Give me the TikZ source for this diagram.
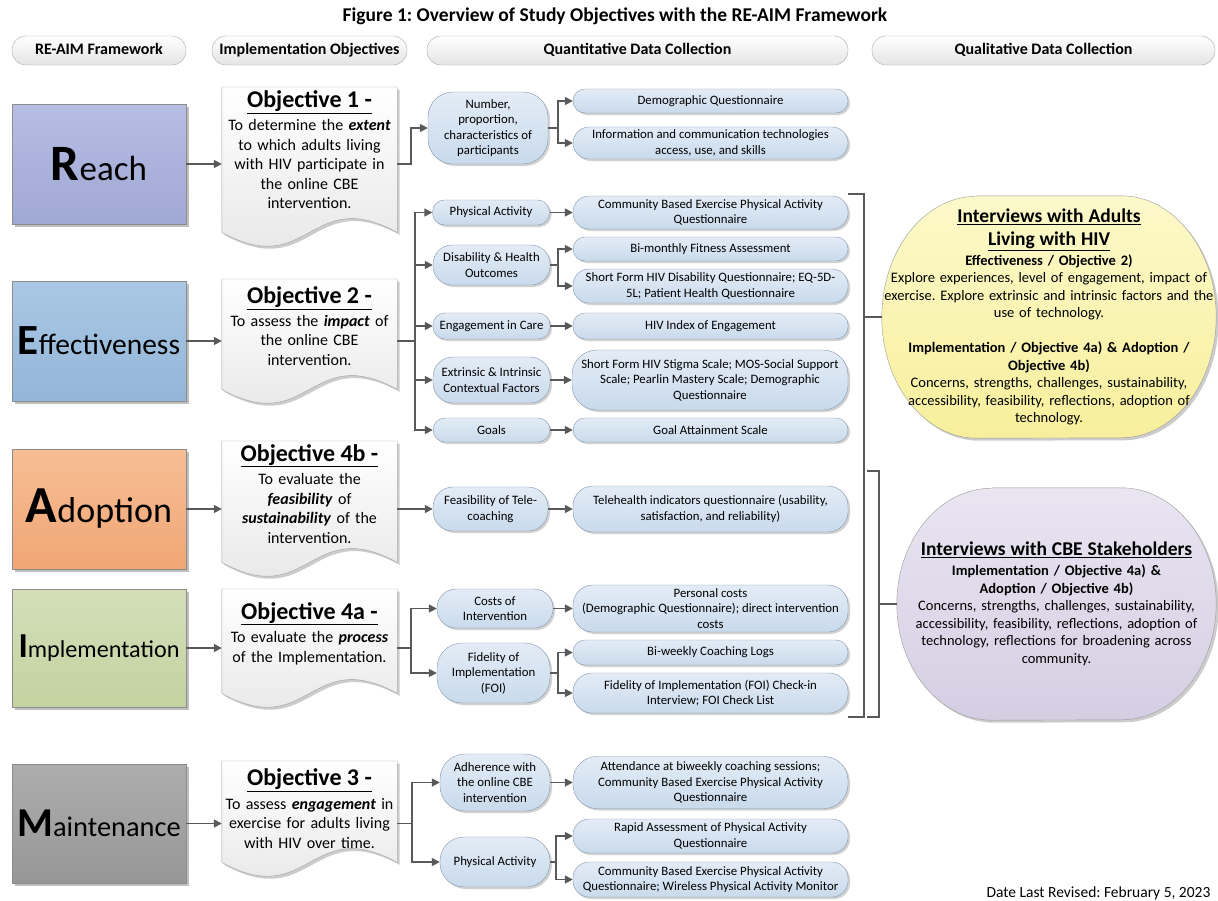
\documentclass[tikz,border=0pt]{standalone}
\usepackage{fontspec}
\setmainfont{Carlito}
\frenchspacing
\usetikzlibrary{arrows.meta, shadows, backgrounds, calc, positioning}
\definecolor{reachtop}{HTML}{B6BEE5}
\definecolor{reachbot}{HTML}{A0A8D4}
\definecolor{efftop}{HTML}{AAC8E4}
\definecolor{effbot}{HTML}{93B5D8}
\definecolor{adoptop}{HTML}{F7BE94}
\definecolor{adopbot}{HTML}{F0A675}
\definecolor{impltop}{HTML}{D4DFB9}
\definecolor{implbot}{HTML}{C3D2A0}
\definecolor{mainttop}{HTML}{ADADAD}
\definecolor{maintbot}{HTML}{979797}
\definecolor{boxedge}{HTML}{8C8C8C}
\definecolor{pilltop}{HTML}{E3ECF6}
\definecolor{pillbot}{HTML}{C9DAEC}
\definecolor{pilledge}{HTML}{8497AB}
\definecolor{headbot}{HTML}{E4E4E4}
\definecolor{headedge}{HTML}{A8A8A8}
\definecolor{docbot}{HTML}{E4E4E4}
\definecolor{docedge}{HTML}{A0A0A0}
\definecolor{qualatop}{HTML}{FCF9CA}
\definecolor{qualabot}{HTML}{F7EF9C}
\definecolor{qualbtop}{HTML}{E9E5F1}
\definecolor{qualbbot}{HTML}{D5CEE3}
\definecolor{qualedge}{HTML}{9A9A9A}
\definecolor{wirecol}{HTML}{595959}
\newcommand{\bigfirst}[4]{{\fontsize{#3}{#3}\selectfont\bfseries #1}{\fontsize{#4}{#4}\selectfont #2}}
\newcommand{\objtitle}[1]{{\fontsize{24}{28}\selectfont\bfseries\underline{#1}}}
\newcommand{\qualhead}[1]{{\fontsize{19.5}{24}\selectfont\bfseries\underline{#1}}}
\newcommand{\lift}[1]{\rule[-#1pt]{0pt}{#1pt}}
\tikzstyle{header} = [draw=headedge, top color=white, bottom color=headbot, rounded corners=14pt,
                      minimum height=29pt, inner sep=0pt, text height=11.5pt, text depth=3.5pt,
                      font=\bfseries\fontsize{16}{19}\selectfont]
\tikzstyle{reaim} = [draw=boxedge, minimum width=174pt, minimum height=120pt, inner sep=0pt,
                     drop shadow={shadow xshift=2.5pt, shadow yshift=-2.5pt, opacity=0.25, fill=black}]
\tikzstyle{docnode} = [anchor=north, minimum width=175pt, text width=172pt, inner sep=0pt, align=center,
                       font=\fontsize{16}{19.5}\selectfont]
\tikzstyle{docoutline} = [draw=docedge, top color=white, bottom color=docbot,
                          drop shadow={shadow xshift=2.5pt, shadow yshift=-2.5pt, opacity=0.2, fill=black}]
\tikzstyle{pill} = [draw=pilledge, top color=pilltop, bottom color=pillbot, rounded corners=12pt,
                    minimum width=275pt, minimum height=24pt, inner sep=1pt, align=center,
                    font=\fontsize{12.8}{15.5}\selectfont,
                    drop shadow={shadow xshift=2pt, shadow yshift=-2pt, opacity=0.18, fill=black}]
\tikzstyle{qualnode} = [inner sep=0pt, align=center, font=\fontsize{14.5}{17.5}\selectfont]
\tikzstyle{wire} = [draw=wirecol, line width=1.6pt]
\tikzstyle{flow} = [wire, -{Triangle[length=8pt, width=8pt]}]
\tikzstyle{bracket} = [draw=wirecol, line width=1.3pt]
\newcommand{\docshape}[1]{%
  \path[docoutline] (#1.north west) -- (#1.north east) -- (#1.south east)
    .. controls ($(#1.south)+(0,48)$) and ($(#1.south)+(0,-48)$) .. (#1.south west) -- cycle;}
\newcommand{\qualshape}[4]{%
  \path[draw=qualedge, #4, drop shadow={shadow xshift=2.5pt, shadow yshift=-2.5pt, opacity=0.2, fill=black}]
    ($(#1.north west)+(#2,0)$) -- ($(#1.north east)+(-#2,0)$)
    arc[start angle=90, end angle=-90, x radius=#2, y radius=#3]
    -- ($(#1.south west)+(#2,0)$)
    arc[start angle=270, end angle=90, x radius=#2, y radius=#3] -- cycle;}

\begin{document}
\begin{tikzpicture}[x=1pt, y=1pt]
\useasboundingbox (0,0) rectangle (1218,-900);

\node (Title) [font=\bfseries\fontsize{19.5}{23}\selectfont] at (615,-16)
  {Figure 1: Overview of Study Objectives with the RE-AIM Framework};

% column headers
\node (HeadReaim) [header, minimum width=174pt] at (99,-50.5) {RE-AIM Framework};
\node (HeadObj) [header, minimum width=195pt] at (309.5,-50.5) {Implementation Objectives};
\node (HeadQuant) [header, minimum width=421pt] at (637.5,-50.5) {Quantitative Data Collection};
\node (HeadQual) [header, minimum width=343pt] at (1043.5,-50.5) {Qualitative Data Collection};

% RE-AIM dimensions
\node (Reach) [reaim, top color=reachtop, bottom color=reachbot] at (99,-164) {\bigfirst{R}{each}{51}{35}};
\node (Eff) [reaim, top color=efftop, bottom color=effbot] at (99,-341) {\bigfirst{E}{ffectiveness}{43}{29.5}};
\node (Adop) [reaim, top color=adoptop, bottom color=adopbot] at (99,-509) {\bigfirst{A}{doption}{52}{36}};
\node (Impl) [reaim, top color=impltop, bottom color=implbot, minimum height=118pt] at (99,-648) {\bigfirst{I}{mplementation}{35}{24.2}};
\node (Maint) [reaim, top color=mainttop, bottom color=maintbot, minimum height=119pt] at (99,-823.5) {\bigfirst{M}{aintenance}{41}{28.4}};

% objectives
\node (Obj1) [docnode, minimum height=145pt] at (309.5,-87)
  {\objtitle{Objective 1 -}\\[4pt] To determine the \textbf{\textit{extent}}\\ to which adults living\\
   with HIV participate in\\ the online CBE\\ intervention.\lift{20}};
\node (Obj2) [docnode, minimum height=110pt] at (309.5,-279)
  {\objtitle{Objective 2 -}\\[3pt] To assess the \textbf{\textit{impact}} of\\ the online CBE\\ intervention.\lift{16}};
\node (Obj4b) [docnode, minimum height=121pt] at (309.5,-441)
  {\objtitle{Objective 4b -}\\[4pt] To evaluate the\\ \textbf{\textit{feasibility}} of\\
   \textbf{\textit{sustainability}} of the\\ intervention.\lift{16}};
\node (Obj4a) [docnode, minimum height=104pt] at (309.5,-589)
  {\objtitle{Objective 4a -}\\[4pt] To evaluate the \textbf{\textit{process}}\\ of the Implementation.\lift{18}};
\node (Obj3) [docnode, minimum height=101pt] at (309.5,-761)
  {\objtitle{Objective 3 -}\\[4pt] To assess \textbf{\textit{engagement}} in\\ exercise for adults living\\ with HIV over time.\lift{6}};
\begin{pgfonlayer}{background}
  \docshape{Obj1}
  \docshape{Obj2}
  \docshape{Obj4b}
  \docshape{Obj4a}
  \docshape{Obj3}
\end{pgfonlayer}

% reach
\node (Num) [pill, minimum width=120pt, minimum height=72pt, rounded corners=25pt] at (488,-128)
  {Number,\\ proportion,\\ characteristics of\\ participants};
\node (Demo) [pill] at (710.5,-101) {Demographic Questionnaire};
\node (ICT) [pill, minimum height=32pt, rounded corners=16pt] at (710.5,-143)
  {Information and communication technologies\\ access, use, and skills};

% effectiveness
\node (PhysAct) [pill, minimum width=117pt, minimum height=25pt] at (491,-212.5) {Physical Activity};
\node (CBEPAQ) [pill, minimum height=33pt, rounded corners=16pt] at (710.5,-212.5)
  {Community Based Exercise Physical Activity\\ Questionnaire};
\node (Disab) [pill, minimum width=117pt, minimum height=40pt, rounded corners=19pt] at (491.5,-265)
  {Disability \& Health\\ Outcomes};
\node (Fitness) [pill] at (710.5,-249) {Bi-monthly Fitness Assessment};
\node (SFHIV) [pill, minimum height=34pt, rounded corners=16pt] at (710.5,-286)
  {Short Form HIV Disability Questionnaire; EQ-5D-\\ 5L; Patient Health Questionnaire};
\node (Engage) [pill, minimum width=117pt, minimum height=26pt] at (491.5,-326) {Engagement in Care};
\node (HIVIndex) [pill, minimum height=26pt] at (710.5,-326) {HIV Index of Engagement};
\node (Context) [pill, minimum width=117pt, minimum height=46pt, rounded corners=20pt] at (491.5,-380)
  {Extrinsic \& Intrinsic\\ Contextual Factors};
\node (Stigma) [pill, minimum width=276pt, minimum height=60pt, rounded corners=25pt] at (710,-380)
  {Short Form HIV Stigma Scale; MOS-Social Support\\ Scale; Pearlin Mastery Scale; Demographic\\ Questionnaire};
\node (Goals) [pill, minimum width=117pt] at (491.5,-430) {Goals};
\node (GAS) [pill] at (710.5,-430) {Goal Attainment Scale};

% adoption
\node (Feas) [pill, minimum width=115pt, minimum height=44pt, rounded corners=20pt] at (490.5,-509)
  {Feasibility of Tele-\\ coaching};
\node (Tele) [pill, minimum height=46pt, rounded corners=20pt] at (710.5,-509)
  {Telehealth indicators questionnaire (usability,\\ satisfaction, and reliability)};

% implementation
\node (Costs) [pill, minimum width=116pt, minimum height=39pt, rounded corners=19pt] at (495,-608.5)
  {Costs of\\ Intervention};
\node (Personal) [pill, minimum height=47pt, rounded corners=20pt] at (710.5,-608.5)
  {Personal costs\\ (Demographic Questionnaire); direct intervention\\ costs};
\node (FOI) [pill, minimum width=113pt, minimum height=60pt, rounded corners=25pt] at (493.5,-673)
  {Fidelity of\\ Implementation\\ (FOI)};
\node (Logs) [pill, minimum height=25pt] at (710.5,-652.5) {Bi-weekly Coaching Logs};
\node (FOICheck) [pill, minimum height=40pt, rounded corners=19pt] at (710.5,-693)
  {Fidelity of Implementation (FOI) Check-in\\ Interview; FOI Check List};

% maintenance
\node (Adher) [pill, minimum width=110pt, minimum height=57pt, rounded corners=25pt] at (495,-782.5)
  {Adherence with\\ the online CBE\\ intervention};
\node (Attend) [pill, minimum height=52pt, rounded corners=24pt] at (710.5,-782.5)
  {Attendance at biweekly coaching sessions;\\ Community Based Exercise Physical Activity\\ Questionnaire};
\node (PhysActM) [pill, minimum width=110pt, minimum height=50pt, rounded corners=24pt] at (495,-862)
  {Physical Activity};
\node (Rapid) [pill, minimum height=34pt, rounded corners=16pt] at (710.5,-836)
  {Rapid Assessment of Physical Activity\\ Questionnaire};
\node (CBEWire) [pill, minimum height=35pt, rounded corners=16pt] at (710.5,-879.5)
  {Community Based Exercise Physical Activity\\ Questionnaire; Wireless Physical Activity Monitor};

% qualitative interviews
\node (QualA) [qualnode, minimum width=334pt, minimum height=242pt, text width=334pt] at (1049,-317)
  {\qualhead{Interviews with Adults}\\[5.5pt] \qualhead{Living with HIV}\\[2.5pt]
   \textbf{Effectiveness / Objective 2)}\\ Explore experiences, level of engagement, impact of\\
   exercise. Explore extrinsic and intrinsic factors and the\\ use of technology.\\[17.5pt]
   \textbf{Implementation / Objective 4a) \& Adoption /}\\ \textbf{Objective 4b)}\\
   Concerns, strengths, challenges, sustainability,\\ accessibility, feasibility, reflections, adoption of\\ technology.};
\node (QualB) [qualnode, minimum width=319pt, minimum height=232pt, text width=312pt] at (1056.5,-604)
  {\qualhead{Interviews with CBE Stakeholders}\\[2.5pt] \textbf{Implementation / Objective 4a) \&}\\
   \textbf{Adoption / Objective 4b)}\\ Concerns, strengths, challenges, sustainability,\\
   accessibility, feasibility, reflections, adoption of\\ technology, reflections for broadening across\\ community.};
\begin{pgfonlayer}{background}
  \qualshape{QualA}{95}{121}{top color=qualatop, bottom color=qualabot}
  \qualshape{QualB}{95}{116}{top color=qualbtop, bottom color=qualbbot}
\end{pgfonlayer}

% dimension to objective
\draw [flow] (Reach) -- (Reach -| Obj1.west);
\draw [flow] (Eff) -- (Eff -| Obj2.west);
\draw [flow] (Adop) -- (Adop -| Obj4b.west);
\draw [flow] (Impl) -- (Impl -| Obj4a.west);
\draw [flow] (Maint) -- (Maint -| Obj3.west);

% reach branches
\draw [flow] (Reach -| Obj1.east) -- ++(14,0) |- (Num);
\draw [flow] (Num.east) -- ++(10,0) coordinate (NumFork) |- (Demo);
\draw [flow] (NumFork) |- (ICT);

% effectiveness branches
\coordinate (EffFork) at (415,-341);
\draw [wire] (Eff -| Obj2.east) -- (EffFork);
\draw [flow] (EffFork) |- (PhysAct);
\draw [flow] (EffFork) |- (Goals);
\draw [flow] (EffFork |- Disab) -- (Disab);
\draw [flow] (EffFork |- Engage) -- (Engage);
\draw [flow] (EffFork |- Context) -- (Context);
\draw [flow] (PhysAct) -- (CBEPAQ);
\draw [flow] (Disab.east) -- ++(8,0) coordinate (DisabFork) |- (Fitness);
\draw [flow] (DisabFork) |- (SFHIV);
\draw [flow] (Engage) -- (HIVIndex);
\draw [flow] (Context) -- (Stigma);
\draw [flow] (Goals) -- (GAS);

% adoption branches
\draw [flow] (Adop -| Obj4b.east) -- (Feas);
\draw [flow] (Feas) -- (Tele);

% implementation branches
\draw [flow] (Impl -| Obj4a.east) -- ++(14,0) coordinate (ImplFork) |- (Costs);
\draw [flow] (ImplFork) |- (FOI);
\draw [flow] (Costs) -- (Personal);
\draw [flow] (FOI.east) -- ++(8,0) coordinate (FOIFork) |- (Logs);
\draw [flow] (FOIFork) |- (FOICheck);

% maintenance branches
\draw [flow] (Maint -| Obj3.east) -- ++(15,0) coordinate (MaintFork) |- (Adher);
\draw [flow] (MaintFork) |- (PhysActM);
\draw [flow] (Adher) -- (Attend);
\draw [flow] (PhysActM.east) -- ++(6,0) coordinate (PhysActFork) |- (Rapid);
\draw [flow] (PhysActFork) |- (CBEWire);

% qualitative brackets
\coordinate (BrAtop) at (848,-194);
\coordinate (BrAbot) at (848,-717);
\draw [bracket] (BrAtop) -- ++(16,0) coordinate (BrAspine) |- (BrAbot);
\draw [bracket] (BrAspine |- QualA.west) -- (QualA.west);
\coordinate (BrBtop) at (867,-471);
\coordinate (BrBbot) at (867,-717);
\draw [bracket] (BrBtop) -- ++(12,0) coordinate (BrBspine) |- (BrBbot);
\draw [bracket] (BrBspine |- QualB.west) -- (QualB.west);

\node (Revised) [anchor=base west, font=\fontsize{15.5}{19}\selectfont] at (983,-897) {Date Last Revised: February 5, 2023};
\end{tikzpicture}
\end{document}
